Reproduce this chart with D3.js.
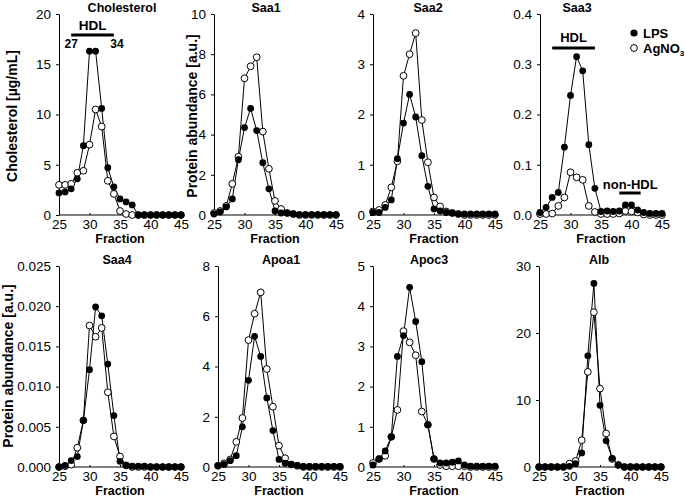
<!DOCTYPE html>
<html>
<head>
<meta charset="utf-8">
<script src="https://cdn.jsdelivr.net/npm/d3@7"></script>
<style>
  body { margin: 0; background: #fff; }
  svg text { font-family: "Liberation Sans", Arial, sans-serif; fill: #000; }
</style>
</head>
<body>
<div id="chart"></div>
<script>
// fraction numbers (x)
const fractions = [25,26,27,28,29,30,31,32,33,34,35,36,37,38,39,40,41,42,43,44,45];

// Cholesterol [ug/mL]
const cholLPS = [2.2,2.3,2.6,3.6,6.9,16.3,16.3,10.6,4.7,2.8,1.6,1.3,1.0,0,0,0,0,0,0,0,0];
const cholAg  = [3.0,3.0,3.1,4.2,4.4,7.0,10.5,8.8,3.4,2.1,0.4,0.1,0,0,0,0,0,0,0,0,0];
// Saa1
const saa1LPS = [0.05,0.15,0.4,0.8,2.75,4.35,5.3,4.2,2.6,1.3,0.2,0.1,0.1,0.05,0.02,0.02,0.02,0.02,0.02,0.02,0.02];
const saa1Ag  = [0.1,0.2,0.45,1.55,2.9,6.8,7.4,7.85,4.15,2.3,0.7,0.3,0.1,0.05,0,0,0,0,0,0,0];
// Saa2
const saa2LPS = [0.05,0.05,0.15,0.3,1.12,1.83,2.4,1.95,1.18,0.57,0.12,0.08,0.05,0.04,0.02,0.02,0.02,0.02,0.02,0.02,0.02];
const saa2Ag  = [0.07,0.1,0.2,0.55,1.07,2.77,3.2,3.62,1.89,1.05,0.35,0.17,0.07,0.04,0.02,0,0,0,0,0,0];
// Saa3
const saa3LPS = [0.005,0.015,0.035,0.045,0.135,0.238,0.315,0.287,0.14,0.053,0.007,0.008,0.007,0.008,0.02,0.02,0.01,0.005,0.003,0.003,0.003];
const saa3Ag  = [0.002,0.002,0.003,0.018,0.035,0.085,0.075,0.07,0.018,0.006,0.002,0.002,0.002,0.003,0.008,0.007,0.005,0.001,0,0,0];
// Saa4
const saa4LPS = [0,0.0002,0.0008,0.0013,0.0058,0.0121,0.0199,0.0188,0.0128,0.0064,0.0007,0.0002,0.0001,0.0001,0.0001,0,0,0,0,0,0];
const saa4Ag  = [0,0.0001,0.0003,0.0024,0.0058,0.0176,0.0162,0.0173,0.0093,0.0038,0.0013,0.0002,0,0,0,0,0,0,0,0,0];
// Apoa1
const apoa1LPS = [0.05,0.1,0.25,0.45,1.6,3.45,5.2,4.4,2.75,1.45,0.3,0.15,0.1,0.06,0.02,0.02,0.02,0.02,0.02,0.02,0.02];
const apoa1Ag  = [0.05,0.15,0.3,1.0,1.95,5.05,6.1,6.95,3.9,2.4,0.85,0.35,0.1,0.05,0,0,0,0,0,0,0];
// Apoc3
const apoc3LPS = [0.05,0.2,0.4,0.75,2.75,3.27,4.47,3.62,2.62,1.05,0.2,0.1,0.1,0.12,0.15,0.05,0.02,0.02,0.02,0.02,0.02];
const apoc3Ag  = [0.1,0.2,0.28,0.75,1.42,3.38,3.1,2.78,1.38,1.05,0.2,0.05,0.02,0.02,0.02,0.02,0,0,0,0,0];
// Alb
const albLPS = [0,0,0,0,0,0.1,0.5,2.1,16.6,27.4,9.2,3.9,1.3,0.3,0,0,0,0,0,0,0];
const albAg  = [0,0,0,0,0,0.5,0.9,4.0,14.2,23.1,11.7,5.0,1.2,0.3,0,0,0,0,0,0,0];

const xTicks = [25,30,35,40,45];

const width = 685, height = 499;
const svg = d3.select("#chart").append("svg")
  .attr("width", width).attr("height", height);

// panel layout
const panels = [
  {title:"Cholesterol", tx:122, x0:59,  top:14,  bot:215, max:20,    ticks:[0,5,10,15,20], fmt:d3.format("d"), lps:cholLPS, ag:cholAg, ylab:"Cholesterol [\u00b5g/mL]", ylx:12, yly:116},
  {title:"Saa1",  tx:266, x0:214, top:14,  bot:215, max:10,    ticks:[0,2,4,6,8,10], fmt:d3.format("d"), lps:saa1LPS, ag:saa1Ag, ylab:"Protein abundance [a.u.]", ylx:192, yly:116},
  {title:"Saa2",  tx:428, x0:373, top:14,  bot:215, max:4,     ticks:[0,1,2,3,4], fmt:d3.format("d"), lps:saa2LPS, ag:saa2Ag},
  {title:"Saa3",  tx:577, x0:540, top:14,  bot:215, max:0.4,   ticks:[0,0.1,0.2,0.3,0.4], fmt:d3.format(".1f"), lps:saa3LPS, ag:saa3Ag},
  {title:"Saa4",  tx:117, x0:59,  top:266, bot:467, max:0.025, ticks:[0,0.005,0.01,0.015,0.02,0.025], fmt:d3.format(".3f"), lps:saa4LPS, ag:saa4Ag, ylab:"Protein abundance [a.u.]", ylx:8, yly:366},
  {title:"Apoa1", tx:281, x0:218, top:266, bot:467, max:8,     ticks:[0,2,4,6,8], fmt:d3.format("d"), lps:apoa1LPS, ag:apoa1Ag},
  {title:"Apoc3", tx:429, x0:373, top:266, bot:467, max:5,     ticks:[0,1,2,3,4,5], fmt:d3.format("d"), lps:apoc3LPS, ag:apoc3Ag},
  {title:"Alb",   tx:599, x0:539, top:266, bot:467, max:30,    ticks:[0,10,20,30], fmt:d3.format("d"), lps:albLPS, ag:albAg}
];

const r = 3.4;

panels.forEach(function(p){
  let g = svg.append("g");
  let x = d3.scaleLinear().domain([25,45]).range([p.x0, p.x0 + 122]);
  let y = d3.scaleLinear().domain([0, p.max]).range([p.bot, p.top]);
  p.x = x; p.y = y;

  // y axis
  let ya = g.append("g").attr("transform", "translate(" + p.x0 + ",0)")
    .call(d3.axisLeft(y).tickValues(p.ticks).tickFormat(p.fmt).tickSizeInner(3).tickSizeOuter(0).tickPadding(5));
  ya.selectAll("text").style("font-size", "13.5px");

  // x axis
  let xa = g.append("g").attr("transform", "translate(0," + p.bot + ")")
    .call(d3.axisBottom(x).tickValues(xTicks).tickSizeInner(-2).tickSizeOuter(0).tickPadding(4));
  xa.select(".domain").attr("d", "M" + p.x0 + ",0H" + (p.x0 + 125));
  xa.selectAll("text").style("font-size", "13.5px");
  g.selectAll(".domain").attr("stroke", "#000");

  g.append("text").attr("x", x(35)).attr("y", p.bot + 28)
    .attr("text-anchor", "middle").style("font-size", "12.5px").style("font-weight", "bold")
    .text("Fraction");

  g.append("text").attr("x", p.tx).attr("y", p.top - 2)
    .attr("text-anchor", "middle").style("font-size", "12.5px").style("font-weight", "bold")
    .text(p.title);

  if (p.ylab) {
    g.append("text").attr("transform", "translate(" + p.ylx + "," + p.yly + ") rotate(-90)")
      .attr("text-anchor", "middle").attr("dy", "0.35em")
      .style("font-size", "14px").style("font-weight", "bold")
      .text(p.ylab);
  }

  let line = d3.line().x((d, i) => x(fractions[i])).y(d => y(d));

  // AgNO3 (open) first, LPS (filled) on top
  g.append("path").datum(p.ag).attr("d", line)
    .attr("fill", "none").attr("stroke", "#000").attr("stroke-width", 1);
  g.append("path").datum(p.lps).attr("d", line)
    .attr("fill", "none").attr("stroke", "#000").attr("stroke-width", 1);

  g.selectAll(".ag").data(p.ag).enter().append("circle")
    .attr("cx", (d, i) => x(fractions[i])).attr("cy", d => y(d)).attr("r", r)
    .attr("fill", "#fff").attr("stroke", "#000").attr("stroke-width", 1);
  g.selectAll(".lps").data(p.lps).enter().append("circle")
    .attr("cx", (d, i) => x(fractions[i])).attr("cy", d => y(d)).attr("r", r)
    .attr("fill", "#000");
});

// HDL annotation, Cholesterol panel
const pc = panels[0];
svg.append("line").attr("x1", pc.x(27)).attr("x2", pc.x(34)).attr("y1", 35).attr("y2", 35)
  .attr("stroke", "#000").attr("stroke-width", 3);
svg.append("text").attr("x", (pc.x(27) + pc.x(34)) / 2).attr("y", 30).attr("text-anchor", "middle")
  .style("font-size", "13.5px").style("font-weight", "bold").text("HDL");
svg.append("text").attr("x", pc.x(27)).attr("y", 48).attr("text-anchor", "middle")
  .style("font-size", "12px").style("font-weight", "bold").text("27");
svg.append("text").attr("x", pc.x(34) + 3).attr("y", 48).attr("text-anchor", "middle")
  .style("font-size", "12px").style("font-weight", "bold").text("34");

// HDL / non-HDL annotation, Saa3 panel
const p3 = panels[3];
svg.append("line").attr("x1", p3.x(27)).attr("x2", p3.x(34)).attr("y1", 48).attr("y2", 48)
  .attr("stroke", "#000").attr("stroke-width", 3);
svg.append("text").attr("x", (p3.x(27) + p3.x(34)) / 2).attr("y", 42).attr("text-anchor", "middle")
  .style("font-size", "13px").style("font-weight", "bold").text("HDL");
svg.append("line").attr("x1", p3.x(38)).attr("x2", p3.x(41.5)).attr("y1", 193).attr("y2", 193)
  .attr("stroke", "#000").attr("stroke-width", 3);
svg.append("text").attr("x", p3.x(39.8)).attr("y", 189).attr("text-anchor", "middle")
  .style("font-size", "13px").style("font-weight", "bold").text("non-HDL");

// legend
const legend = svg.append("g").attr("transform", "translate(634,0)");
legend.append("circle").attr("cx", 0).attr("cy", 33).attr("r", 3.6).attr("fill", "#000");
legend.append("text").attr("x", 9).attr("y", 38).style("font-size", "13px").style("font-weight", "bold").text("LPS");
legend.append("circle").attr("cx", 0).attr("cy", 48).attr("r", 3.4).attr("fill", "#fff").attr("stroke", "#000");
let agText = legend.append("text").attr("x", 9).attr("y", 53).style("font-size", "13px").style("font-weight", "bold");
agText.append("tspan").text("AgNO");
agText.append("tspan").attr("dy", 3).style("font-size", "8px").text("3");
</script>
</body>
</html>
